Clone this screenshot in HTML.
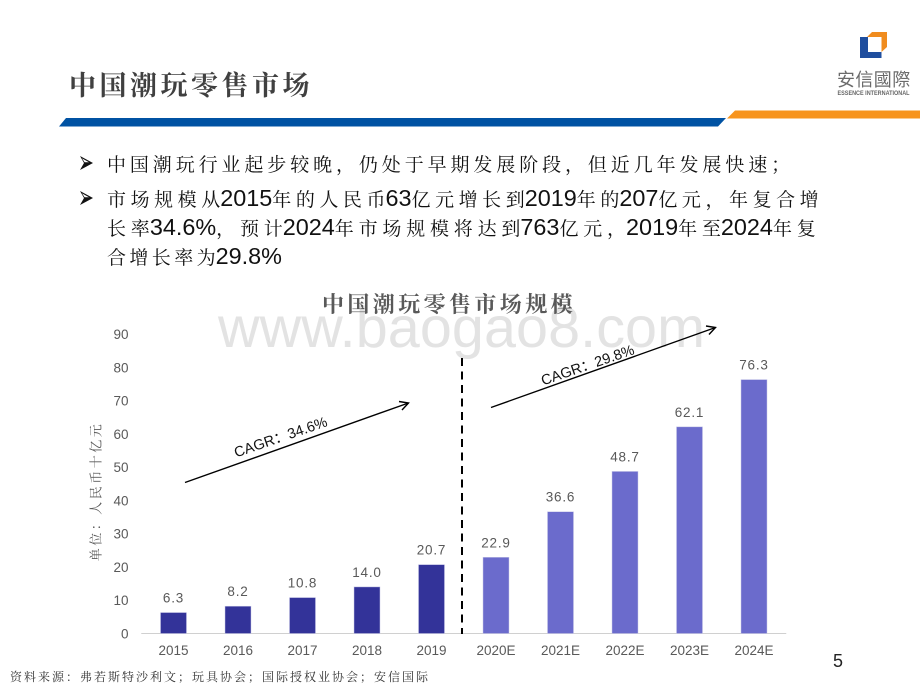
<!DOCTYPE html>
<html lang="zh">
<head>
<meta charset="utf-8">
<title>中国潮玩零售市场</title>
<style>
html,body{margin:0;padding:0;background:#fff;}
#slide{position:relative;width:920px;height:690px;overflow:hidden;background:#fff;font-family:"Liberation Sans","Noto Serif CJK SC",serif;}
#slide svg{position:absolute;left:0;top:0;}
.line{--l:3.9px;position:absolute;left:107px;white-space:nowrap;font-size:19px;line-height:26px;color:#111;letter-spacing:var(--l);font-family:"Noto Serif CJK SC",serif;}
.line b{font-family:"Liberation Sans",sans-serif;font-weight:400;font-size:23.4px;letter-spacing:0;line-height:20px;margin-left:calc(-1 * var(--l));}
.bullet{position:absolute;width:17px;height:17px;}
</style>
</head>
<body>
<div id="slide">
<svg width="920" height="690" viewBox="0 0 920 690">
  <text x="218" y="347" font-family="Liberation Sans, sans-serif" font-size="57.5" textLength="487" fill="#e3e3e3">www.baogao8.com</text>
  <polygon points="66,118 726,118 718,126.5 59,126.5" fill="#0052a3"/>
  <polygon points="735,110.5 920,110.5 920,118.5 727,118.5" fill="#f7941d"/>
  <polygon points="860,37 868,37 868,52 881.5,52 881.5,58 860,58" fill="#1f4e9e"/>
  <polygon points="872,32 887,32 887,47 881.5,52 881.5,37 867,37" fill="#f08c1e"/>
  <text x="837" y="86" font-family="Noto Sans CJK TC, sans-serif" font-size="18" letter-spacing="0.4" fill="#6a6a6a">安信國際</text>
  <text x="837.5" y="95" font-family="Liberation Sans, sans-serif" font-size="6" font-weight="700" textLength="72" lengthAdjust="spacingAndGlyphs" fill="#666">ESSENCE INTERNATIONAL</text>
  <text x="69" y="95" font-family="Noto Serif CJK SC, serif" font-weight="700" font-size="27" letter-spacing="3.5" fill="#404040">中国潮玩零售市场</text>
  <text x="322" y="312" font-family="Noto Serif CJK SC, serif" font-weight="700" font-size="22" letter-spacing="3.4" fill="#595959">中国潮玩零售市场规模</text>
  <g id="plot"></g>
  <text transform="translate(97,491.5) rotate(-90)" text-anchor="middle" dominant-baseline="middle" font-family="Noto Serif CJK SC, serif" font-size="13" letter-spacing="2.5" fill="#595959">单位&#xFF1A;人民币十亿元</text>
  <line x1="462" y1="358" x2="462" y2="634" stroke="#000" stroke-width="2" stroke-dasharray="8 5.5"/>
  <g fill="none" stroke="#000" stroke-width="1.4">
    <line x1="185" y1="482.5" x2="408.5" y2="403"/>
    <polyline points="399,401.5 408.5,403 402,410"/>
  </g>
  <g fill="none" stroke="#000" stroke-width="1.4">
    <line x1="491" y1="407.5" x2="715.5" y2="327.5"/>
    <polyline points="706,326 715.5,327.5 709,334.5"/>
  </g>
  <text transform="translate(281,438) rotate(-19)" text-anchor="middle" dominant-baseline="middle" font-family="Liberation Sans, Noto Sans CJK SC, sans-serif" font-size="14.5" fill="#111">CAGR&#xFF1A;34.6%</text>
  <text transform="translate(588,366) rotate(-19)" text-anchor="middle" dominant-baseline="middle" font-family="Liberation Sans, Noto Sans CJK SC, sans-serif" font-size="14.5" fill="#111">CAGR&#xFF1A;29.8%</text>
  <text x="833" y="667" font-family="Liberation Sans, sans-serif" font-size="18" fill="#222">5</text>
  <text x="10" y="681" font-family="Noto Serif CJK SC, serif" font-size="12" letter-spacing="2" fill="#333">资料来源&#xFF1A;弗若斯特沙利文&#xFF1B;玩具协会&#xFF1B;国际授权业协会&#xFF1B;安信国际</text>
</svg>

<svg class="bullet" style="top:155px;left:79px" width="17" height="17"><polygon points="1,1 14,8 1,15 5,8" fill="#111"/><polygon points="3,3.4 10,7.3 5.6,7.3" fill="#fff"/></svg>
<div class="line" style="top:151px">中国潮玩行业起步较晚&#xFF0C;仍处于早期发展阶段&#xFF0C;但近几年发展快速&#xFF1B;</div>
<svg class="bullet" style="top:190px;left:79px" width="17" height="17"><polygon points="1,1 14,8 1,15 5,8" fill="#111"/><polygon points="3,3.4 10,7.3 5.6,7.3" fill="#fff"/></svg>
<div class="line" style="top:186px;--l:4.55px">市场规模从<b>2015</b>年的人民币<b>63</b>亿元增长到<b>2019</b>年的<b>207</b>亿元&#xFF0C;年复合增</div>
<div class="line" style="top:215px;--l:4.8px">长率<b>34.6%</b>&#xFF0C;预计<b>2024</b>年市场规模将达到<b>763</b>亿元&#xFF0C;<b>2019</b>年至<b>2024</b>年复</div>
<div class="line" style="top:244px;--l:3.4px">合增长率为<b>29.8%</b></div>
</div>

<script>
const categories = ['2015','2016','2017','2018','2019','2020E','2021E','2022E','2023E','2024E'];
const seriesValues = [6.3,8.2,10.8,14.0,20.7,22.9,36.6,48.7,62.1,76.3];
const valueLabels = ['6.3','8.2','10.8','14.0','20.7','22.9','36.6','48.7','62.1','76.3'];
const yTicks = [0,10,20,30,40,50,60,70,80,90];
const forecastFlags = [false,false,false,false,false,true,true,true,true,true];

const plotLeft = 141.25, stepX = 64.5, barW = 26, baseY = 633.5, topY = 334, maxY = 90;
const xCenter = i => plotLeft + stepX * (i + 0.5);
const yPos = v => baseY - (v / maxY) * (baseY - topY);
const NS = 'http://www.w3.org/2000/svg';
const plot = document.getElementById('plot');
function mk(tag, attrs, text) {
  const el = document.createElementNS(NS, tag);
  for (const k in attrs) el.setAttribute(k, attrs[k]);
  if (text !== undefined) el.textContent = text;
  plot.appendChild(el);
  return el;
}
const axis = mk('line', {x1: plotLeft, x2: plotLeft + stepX * categories.length, y1: baseY, y2: baseY, stroke: '#d0d0d0', 'stroke-width': 1});


yTicks.forEach(t => {
  const el = mk('text', {x: 128.5, y: yPos(t) + 5, 'text-anchor': 'end', 'font-family': 'Liberation Sans, sans-serif', 'font-size': 13.5, fill: '#595959'}, String(t));
  
  
});
categories.forEach((c, i) => {
  const top = yPos(seriesValues[i]);
  const bar = mk('rect', {x: xCenter(i) - barW / 2, y: top, width: barW, height: baseY - top, fill: forecastFlags[i] ? '#6b6bcc' : '#333399', stroke: '#c9c9e8', 'stroke-width': 0.5});
  
  
  const val = mk('text', {x: xCenter(i), y: top - 10, 'text-anchor': 'middle', 'font-family': 'Liberation Sans, sans-serif', 'font-size': 13.5, 'letter-spacing': 0.8, fill: '#595959'}, valueLabels[i]);
  
  
  const lab = mk('text', {x: xCenter(i), y: baseY + 21.5, 'text-anchor': 'middle', 'font-family': 'Liberation Sans, sans-serif', 'font-size': 13.5, fill: '#595959'}, c);
  
  
});
</script>
</body>
</html>
